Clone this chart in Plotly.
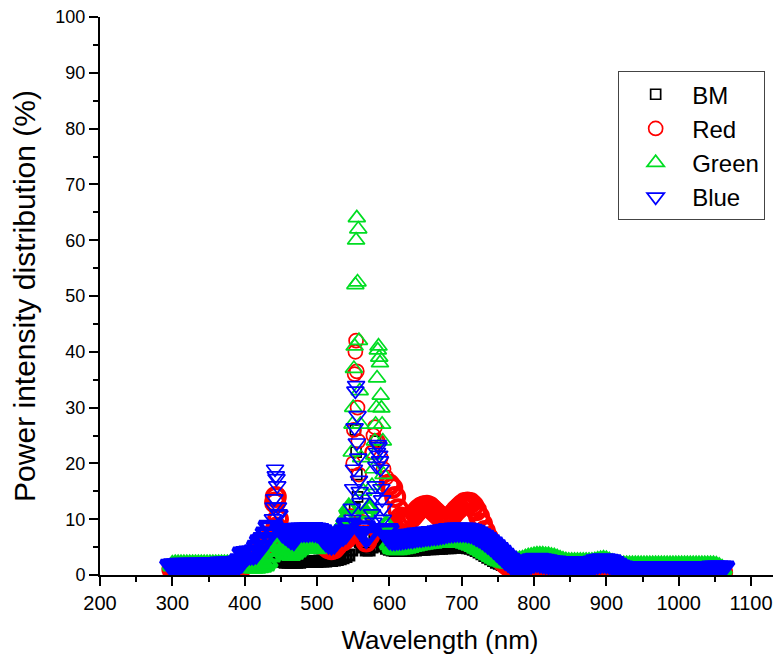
import plotly.graph_objects as go

# ---------------- data ----------------
# base wavelength grid (nm), 4 nm step
wavelength = list(range(300, 1061, 4))

bm_values = [
    1.5, 1.5, 1.5, 1.5, 1.5, 1.5, 1.5, 1.5, 1.5, 1.5,
    1.5, 1.5, 1.5, 1.5, 1.5, 1.5, 1.5, 1.5, 1.5, 1.5,
    1.5, 1.5, 1.5, 1.6, 1.7, 1.8, 1.8, 1.8, 1.8, 1.8,
    2.0, 2.1, 2.2, 2.3, 2.4, 2.6, 2.8, 2.6, 2.4, 2.3,
    2.3, 2.3, 2.3, 2.3, 2.3, 2.4, 2.4, 2.4, 2.4, 2.4,
    2.4, 2.5, 2.5, 2.5, 2.6, 2.6, 2.7, 2.8, 2.9, 3.1,
    3.3, 3.6, 4.5, 12.0, 14.0, 6.0, 5.0, 4.5, 4.5, 5.0,
    6.0, 8.0, 6.5, 5.2, 4.8, 4.6, 4.5, 4.4, 4.4, 4.4,
    4.4, 4.4, 4.5, 4.5, 4.5, 4.6, 4.6, 4.6, 4.7, 4.7,
    4.7, 4.8, 4.8, 4.8, 4.9, 4.9, 4.9, 5.0, 5.0, 5.0,
    5.0, 5.0, 4.9, 4.8, 4.6, 4.4, 4.1, 3.8, 3.5, 3.2,
    2.9, 2.6, 2.3, 2.1, 1.9, 1.7, 1.6, 1.5, 1.4, 1.4,
    1.4, 1.4, 1.5, 1.7, 1.9, 2.0, 2.1, 2.1, 2.0, 2.0,
    1.9, 1.9, 1.9, 1.8, 1.8, 1.8, 1.8, 1.8, 1.8, 1.8,
    1.8, 1.8, 1.8, 1.8, 1.8, 1.9, 2.0, 2.1, 2.2, 2.2,
    2.1, 2.0, 1.8, 1.6, 1.4, 1.2, 1.1, 1.1, 1.1, 1.1,
    1.1, 1.1, 1.1, 1.1, 1.1, 1.1, 1.1, 1.1, 1.1, 1.1,
    1.1, 1.1, 1.1, 1.1, 1.1, 1.1, 1.1, 1.1, 1.1, 1.1,
    1.1, 1.1, 1.1, 1.1, 1.1, 1.1, 1.1, 1.1, 1.1, 1.1,
    1.1,
]
bm_peak_wl = [553, 554, 555, 581]
bm_peak_values = [26.0, 22.0, 18.0, 24.0]

red_values = [
    1.0, 1.0, 1.0, 1.0, 1.0, 1.0, 1.0, 1.0, 1.0, 1.0,
    1.0, 1.0, 1.0, 1.0, 1.0, 1.0, 1.0, 1.0, 1.0, 1.0,
    1.0, 1.0, 1.1, 1.2, 1.5, 2.8, 2.9, 3.0, 3.0, 3.2,
    3.8, 4.6, 5.0, 6.0, 6.8, 7.5, 8.5, 7.0, 6.5, 6.3,
    6.0, 5.6, 5.4, 6.4, 6.9, 6.9, 6.9, 6.9, 7.0, 6.9,
    6.8, 6.6, 5.8, 5.2, 4.8, 4.6, 4.8, 5.4, 6.0, 6.2,
    6.6, 8.0, 10.0, 36.0, 30.0, 9.0, 7.0, 6.0, 7.0, 22.0,
    26.5, 24.0, 21.0, 19.0, 17.5, 16.2, 15.6, 14.0, 11.8, 10.3,
    10.0, 9.9, 10.0, 10.5, 11.1, 11.7, 12.1, 12.3, 12.4, 12.2,
    11.7, 11.2, 10.7, 10.3, 10.1, 10.1, 10.4, 10.9, 11.5, 12.0,
    12.5, 12.9, 13.0, 12.9, 12.4, 11.6, 10.5, 9.2, 7.9, 6.7,
    5.6, 4.7, 3.9, 3.2, 2.6, 2.1, 1.7, 1.3, 1.0, 0.8,
    0.8, 0.8, 1.0, 1.3, 1.6, 1.8, 1.9, 1.8, 1.7, 1.6,
    1.5, 1.4, 1.4, 1.3, 1.3, 1.2, 1.2, 1.2, 1.2, 1.2,
    1.2, 1.2, 1.2, 1.2, 1.2, 1.3, 1.4, 1.6, 1.7, 1.8,
    1.7, 1.6, 1.3, 1.0, 0.8, 0.6, 0.5, 0.5, 0.5, 0.5,
    0.5, 0.5, 0.5, 0.5, 0.5, 0.5, 0.5, 0.5, 0.5, 0.5,
    0.5, 0.5, 0.5, 0.5, 0.5, 0.5, 0.5, 0.5, 0.5, 0.5,
    0.5, 0.5, 0.5, 0.5, 0.5, 0.5, 0.5, 0.5, 0.5, 0.5,
    0.5,
]
red_peak_wl = [442, 443, 446, 550, 551, 553, 554, 555, 557, 558, 577, 578, 582]
red_peak_values = [13.0, 14.0, 10.0, 20.0, 26.0, 40.0, 42.0, 36.5, 24.0, 18.0, 22.0, 25.0, 24.0]

green_values = [
    1.7, 1.8, 1.8, 1.8, 1.8, 1.8, 1.8, 1.8, 1.8, 1.8,
    1.8, 1.8, 1.8, 1.8, 1.8, 1.8, 1.8, 1.8, 1.8, 1.8,
    1.8, 1.8, 1.8, 1.8, 1.7, 1.6, 1.5, 1.4, 1.3, 1.3,
    1.4, 1.5, 1.7, 2.3, 3.3, 4.3, 5.2, 5.5, 4.8, 4.0,
    3.8, 3.6, 3.8, 4.2, 4.6, 5.0, 5.5, 5.8, 5.4, 5.0,
    4.8, 5.4, 6.2, 6.6, 6.7, 6.5, 6.9, 7.6, 8.3, 9.0,
    10.2, 12.0, 22.0, 41.0, 52.5, 27.0, 15.0, 11.0, 12.0, 16.0,
    24.0, 40.3, 32.2, 18.0, 9.0, 5.5, 4.8, 4.6, 4.6, 4.7,
    4.8, 4.9, 5.0, 5.2, 5.3, 5.4, 5.5, 5.6, 5.7, 5.8,
    5.8, 5.9, 5.9, 6.0, 6.0, 6.0, 6.0, 6.0, 6.0, 5.9,
    5.9, 5.8, 5.6, 5.4, 5.2, 4.9, 4.6, 4.3, 4.0, 3.7,
    3.4, 3.1, 2.8, 2.6, 2.4, 2.3, 2.2, 2.2, 2.3, 2.4,
    2.5, 2.6, 2.8, 3.0, 3.1, 3.2, 3.3, 3.3, 3.3, 3.2,
    3.2, 3.1, 3.0, 2.8, 2.6, 2.4, 2.3, 2.2, 2.2, 2.2,
    2.2, 2.2, 2.2, 2.2, 2.2, 2.2, 2.3, 2.4, 2.5, 2.6,
    2.5, 2.3, 2.0, 1.8, 1.7, 1.6, 1.6, 1.6, 1.6, 1.6,
    1.6, 1.6, 1.6, 1.6, 1.6, 1.6, 1.6, 1.6, 1.6, 1.6,
    1.6, 1.6, 1.6, 1.6, 1.6, 1.6, 1.6, 1.6, 1.6, 1.6,
    1.6, 1.6, 1.6, 1.6, 1.6, 1.6, 1.6, 1.6, 1.5, 1.3,
    1.0,
]
green_peak_wl = [549, 550, 551, 553, 554, 555, 557, 558, 559, 561,
                 578, 579, 581, 582, 583, 585, 586, 587, 589, 590, 591]
green_peak_values = [27.0, 30.0, 37.0, 52.0, 60.0, 64.0, 62.0, 42.0, 33.0, 21.0,
                     19.0, 21.5, 27.0, 30.0, 35.3, 41.0, 39.0, 38.0, 29.9, 27.0, 24.0]

blue_values = [
    1.6, 1.7, 1.7, 1.8, 1.8, 1.8, 1.8, 1.8, 1.8, 1.8,
    1.8, 1.8, 1.9, 1.9, 1.9, 1.9, 1.9, 2.0, 2.0, 2.0,
    2.0, 2.0, 2.1, 2.2, 2.6, 3.8, 3.9, 4.0, 4.0, 4.2,
    5.0, 6.0, 6.4, 7.4, 8.6, 12.2, 17.3, 10.8, 8.0, 7.6,
    7.2, 6.8, 6.6, 7.6, 8.1, 8.1, 8.1, 8.1, 8.2, 8.1,
    8.0, 7.8, 7.0, 6.4, 6.0, 5.8, 6.0, 6.6, 7.2, 7.4,
    7.8, 9.0, 12.0, 26.4, 28.6, 13.0, 8.5, 7.0, 7.5, 11.0,
    14.0, 23.4, 19.0, 12.0, 8.0, 6.8, 6.6, 6.6, 6.7, 6.7,
    6.8, 6.9, 7.0, 7.0, 7.1, 7.2, 7.2, 7.3, 7.4, 7.4,
    7.5, 7.5, 7.6, 7.7, 7.8, 7.9, 8.0, 8.0, 8.1, 8.1,
    8.1, 8.1, 8.0, 7.9, 7.7, 7.4, 7.1, 6.8, 6.4, 6.0,
    5.6, 5.1, 4.6, 4.1, 3.6, 3.1, 2.7, 2.3, 2.0, 1.7,
    1.6, 1.6, 1.8, 2.1, 2.4, 2.6, 2.7, 2.6, 2.5, 2.4,
    2.3, 2.2, 2.2, 2.1, 2.1, 2.0, 2.0, 2.0, 2.0, 2.0,
    2.0, 2.0, 2.0, 2.0, 2.0, 2.1, 2.2, 2.4, 2.5, 2.6,
    2.5, 2.4, 2.1, 1.8, 1.5, 1.3, 1.2, 1.2, 1.2, 1.2,
    1.2, 1.2, 1.2, 1.2, 1.2, 1.2, 1.2, 1.2, 1.2, 1.2,
    1.2, 1.2, 1.2, 1.2, 1.2, 1.2, 1.2, 1.2, 1.2, 1.2,
    1.2, 1.2, 1.2, 1.2, 1.2, 1.2, 1.2, 1.3, 1.3, 1.3,
    1.3,
]
blue_peak_wl = [439, 441, 442, 443, 445, 446, 447,
                549, 550, 551, 553, 554, 555, 557, 558, 559,
                578, 581, 582, 583, 585, 586, 587, 589, 590, 591]
blue_peak_values = [10.1, 13.7, 19.0, 17.8, 16.0, 12.2, 11.0,
                    10.0, 15.5, 19.0, 33.0, 34.0, 23.7, 21.0, 17.0, 15.0,
                    9.5, 16.0, 19.5, 22.0, 23.0, 21.5, 20.5, 15.5, 13.5, 10.0]

series_names = ["BM", "Red", "Green", "Blue"]
x_ticks = [200, 300, 400, 500, 600, 700, 800, 900, 1000, 1100]
y_ticks = [0, 10, 20, 30, 40, 50, 60, 70, 80, 90, 100]

# ---------------- styling ----------------
# dense spectral "band" points are drawn with heavy outlines, isolated
# peak points with thin outlines (as in the original scatter)
styles = [
    dict(symbol="square-open", color="#000000", band_size=10, band_lw=3.0,
         pk_size=10, split=7.0),
    dict(symbol="circle-open", color="#FF0000", band_size=18, band_lw=4.0,
         pk_size=14, split=16.5),
    dict(symbol="triangle-up-open", color="#00DD22", band_size=16, band_lw=4.0,
         pk_size=15, split=12.5),
    dict(symbol="triangle-down-open", color="#0000FF", band_size=20, band_lw=4.5,
         pk_size=15, split=9.5),
]
data = [
    (bm_values, bm_peak_wl, bm_peak_values),
    (red_values, red_peak_wl, red_peak_values),
    (green_values, green_peak_wl, green_peak_values),
    (blue_values, blue_peak_wl, blue_peak_values),
]


def merge(grid_vals, pk_wl, pk_vals):
    return sorted(list(zip(wavelength, grid_vals)) + list(zip(pk_wl, pk_vals)))


fig = go.Figure()
for name, st, (vals, pw, pv) in zip(series_names, styles, data):
    pts = merge(vals, pw, pv)
    band = [p for p in pts if p[1] < st["split"]]
    peak = [p for p in pts if p[1] >= st["split"]]
    fig.add_trace(go.Scatter(
        x=[p[0] for p in band], y=[p[1] for p in band], mode="markers",
        name=name, legendgroup=name, showlegend=False, hoverinfo="skip",
        marker=dict(symbol=st["symbol"], size=st["band_size"], color=st["color"],
                    line=dict(width=st["band_lw"], color=st["color"])),
    ))
    fig.add_trace(go.Scatter(
        x=[p[0] for p in peak], y=[p[1] for p in peak], mode="markers",
        name=name, legendgroup=name, showlegend=True,
        marker=dict(symbol=st["symbol"], size=st["pk_size"], color=st["color"],
                    line=dict(width=1.7, color=st["color"])),
    ))

# the page body adds an 8px offset; figure is sized so the page fits the window
font_family = "Arial, 'Liberation Sans', sans-serif"
fig.update_layout(
    width=773, height=647,
    margin=dict(l=92, r=1, t=9, b=80),
    paper_bgcolor="white", plot_bgcolor="white",
    font=dict(family=font_family, color="black"),
    legend=dict(
        x=0.762, y=0.903, xanchor="left", yanchor="top",
        bordercolor="#444444", borderwidth=1, bgcolor="white",
        font=dict(size=24, family=font_family, color="black"),
        itemwidth=63, tracegroupgap=0,
    ),
    xaxis=dict(
        range=[200, 1140], tickvals=x_ticks, ticktext=[str(t) for t in x_ticks],
        showline=True, linecolor="black", linewidth=2,
        ticks="outside", ticklen=9, tickwidth=2, tickcolor="black",
        showgrid=False, zeroline=False, automargin=False,
        ticklabeloverflow="allow",
        tickfont=dict(size=20),
        title=dict(text="Wavelength (nm)", font=dict(size=26), standoff=18),
        minor=dict(dtick=50, tick0=200, ticklen=5, tickwidth=2, ticks="outside",
                   tickcolor="black", showgrid=False),
    ),
    yaxis=dict(
        range=[0, 100], tickvals=y_ticks, ticktext=[str(t) for t in y_ticks],
        showline=True, linecolor="black", linewidth=2,
        ticks="outside", ticklen=9, tickwidth=2, tickcolor="black",
        showgrid=False, zeroline=False, automargin=False,
        ticklabeloverflow="allow",
        tickfont=dict(size=18),
        title=dict(text="Power intensity distribution (%)", font=dict(size=30), standoff=24),
        minor=dict(dtick=5, tick0=0, ticklen=5, tickwidth=2, ticks="outside",
                   tickcolor="black", showgrid=False),
    ),
)

fig.write_html("out.html")
